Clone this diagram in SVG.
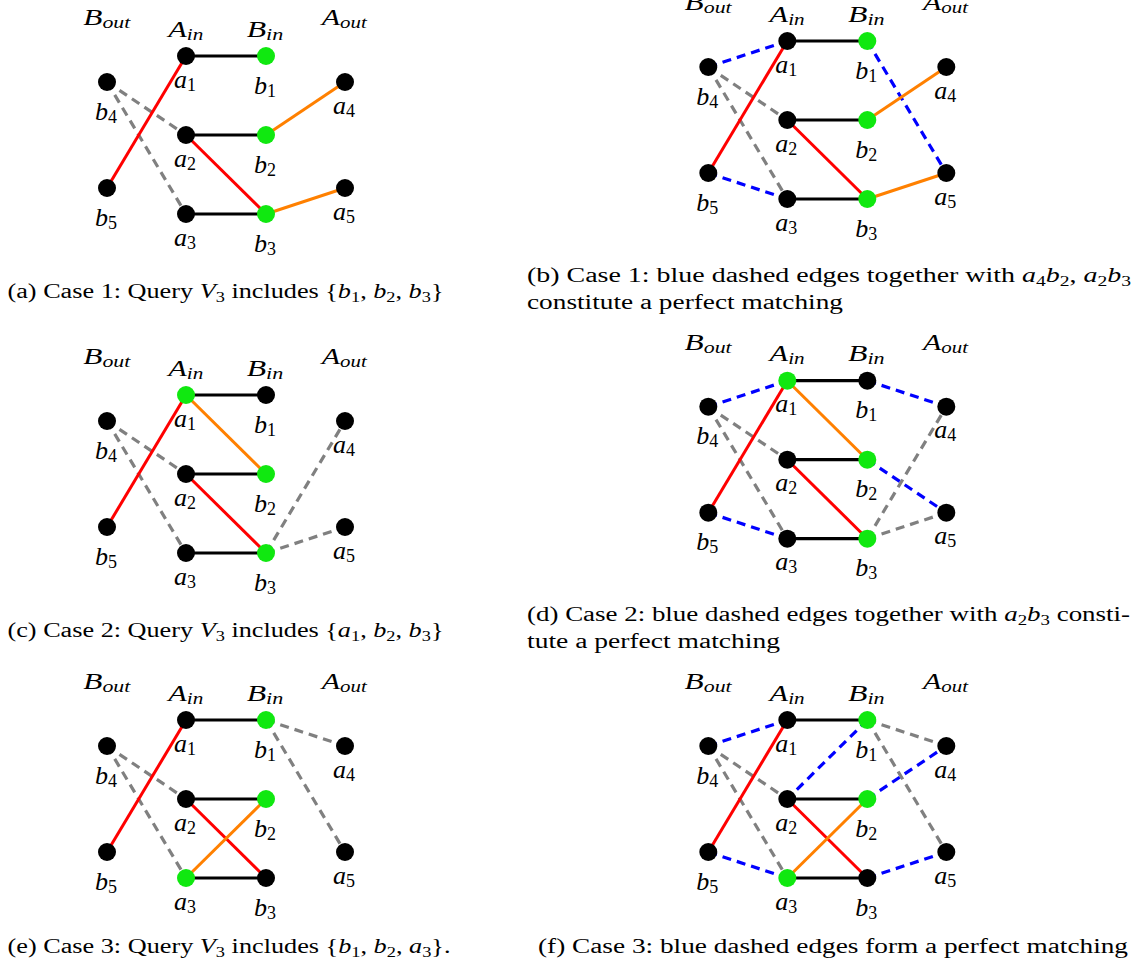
<svg xmlns="http://www.w3.org/2000/svg" width="1143" height="974" viewBox="0 0 1143 974">
<style>
.bg{fill:#ffffff}
.k{fill:#000000}
.g{fill:#10e810}
.bk{stroke:#000000;stroke-width:3.2;fill:none}
.rd{stroke:#ff0000;stroke-width:3;fill:none}
.or{stroke:#ff8000;stroke-width:3;fill:none}
.gd{stroke:#808080;stroke-width:3.2;stroke-dasharray:9 6;fill:none}
.bd{stroke:#0000ff;stroke-width:3.2;stroke-dasharray:9 6;fill:none}
.lbl{font-family:"Liberation Serif",serif;font-style:italic;font-size:26px;text-anchor:middle;fill:#000}
.ls{font-style:normal;font-size:18px}
.hd{font-family:"Liberation Serif",serif;font-style:italic;font-size:23px;fill:#000}
.hs{font-size:16px}
.cap{font-family:"Liberation Serif",serif;font-size:20px;fill:#000}
.i{font-style:italic}
.sub{font-size:14px}
</style>
<rect class="bg" x="0" y="0" width="1143" height="974"/>

<!-- Panel (a) -->
<g id="panel-a">
<g id="a-connectors">
<line class="gd" x1="107" y1="82" x2="186" y2="135"/>
<line class="gd" x1="107" y1="82" x2="186" y2="214"/>
<line class="rd" x1="107" y1="188" x2="186" y2="56"/>
<line class="rd" x1="186" y1="135" x2="266" y2="214"/>
<line class="or" x1="266" y1="135" x2="345" y2="82"/>
<line class="or" x1="266" y1="214" x2="345" y2="188"/>
<line class="bk" x1="186" y1="56" x2="266" y2="56"/>
<line class="bk" x1="186" y1="135" x2="266" y2="135"/>
<line class="bk" x1="186" y1="214" x2="266" y2="214"/>
</g>
<g id="a-headers">
<text class="hd" x="83.3" y="25" textLength="47" lengthAdjust="spacingAndGlyphs">B<tspan class="hs" dy="3">out</tspan></text>
<text class="hd" x="168.3" y="36.7" textLength="35" lengthAdjust="spacingAndGlyphs">A<tspan class="hs" dy="3">in</tspan></text>
<text class="hd" x="246.7" y="36.7" textLength="36.6" lengthAdjust="spacingAndGlyphs">B<tspan class="hs" dy="3">in</tspan></text>
<text class="hd" x="321.7" y="25" textLength="45" lengthAdjust="spacingAndGlyphs">A<tspan class="hs" dy="3">out</tspan></text>
</g>
<g id="a-a1"><circle class="k" cx="186" cy="56" r="9"/><text class="lbl" x="185" y="87.5">a<tspan class="ls" dy="3">1</tspan></text></g>
<g id="a-b1"><circle class="g" cx="266" cy="56" r="9"/><text class="lbl" x="265" y="93.5">b<tspan class="ls" dy="3">1</tspan></text></g>
<g id="a-b4"><circle class="k" cx="107" cy="82" r="9"/><text class="lbl" x="106" y="119.5">b<tspan class="ls" dy="3">4</tspan></text></g>
<g id="a-a4"><circle class="k" cx="345" cy="82" r="9"/><text class="lbl" x="344" y="113.5">a<tspan class="ls" dy="3">4</tspan></text></g>
<g id="a-a2"><circle class="k" cx="186" cy="135" r="9"/><text class="lbl" x="185" y="166.5">a<tspan class="ls" dy="3">2</tspan></text></g>
<g id="a-b2"><circle class="g" cx="266" cy="135" r="9"/><text class="lbl" x="265" y="172.5">b<tspan class="ls" dy="3">2</tspan></text></g>
<g id="a-b5"><circle class="k" cx="107" cy="188" r="9"/><text class="lbl" x="106" y="225.5">b<tspan class="ls" dy="3">5</tspan></text></g>
<g id="a-a5"><circle class="k" cx="345" cy="188" r="9"/><text class="lbl" x="344" y="219.5">a<tspan class="ls" dy="3">5</tspan></text></g>
<g id="a-a3"><circle class="k" cx="186" cy="214" r="9"/><text class="lbl" x="185" y="245.5">a<tspan class="ls" dy="3">3</tspan></text></g>
<g id="a-b3"><circle class="g" cx="266" cy="214" r="9"/><text class="lbl" x="265" y="251.5">b<tspan class="ls" dy="3">3</tspan></text></g>
</g>

<!-- Panel (b) -->
<g id="panel-b" transform="translate(601.3,-15)">
<g id="b-connectors">
<line class="gd" x1="107" y1="82" x2="186" y2="135"/>
<line class="gd" x1="107" y1="82" x2="186" y2="214"/>
<line class="bd" x1="107" y1="82" x2="186" y2="56"/>
<line class="bd" x1="107" y1="188" x2="186" y2="214"/>
<line class="bd" x1="266" y1="56" x2="345" y2="188"/>
<line class="rd" x1="107" y1="188" x2="186" y2="56"/>
<line class="rd" x1="186" y1="135" x2="266" y2="214"/>
<line class="or" x1="266" y1="135" x2="345" y2="82"/>
<line class="or" x1="266" y1="214" x2="345" y2="188"/>
<line class="bk" x1="186" y1="56" x2="266" y2="56"/>
<line class="bk" x1="186" y1="135" x2="266" y2="135"/>
<line class="bk" x1="186" y1="214" x2="266" y2="214"/>
</g>
<g id="b-headers">
<text class="hd" x="83.3" y="25" textLength="47" lengthAdjust="spacingAndGlyphs">B<tspan class="hs" dy="3">out</tspan></text>
<text class="hd" x="168.3" y="36.7" textLength="35" lengthAdjust="spacingAndGlyphs">A<tspan class="hs" dy="3">in</tspan></text>
<text class="hd" x="246.7" y="36.7" textLength="36.6" lengthAdjust="spacingAndGlyphs">B<tspan class="hs" dy="3">in</tspan></text>
<text class="hd" x="321.7" y="25" textLength="45" lengthAdjust="spacingAndGlyphs">A<tspan class="hs" dy="3">out</tspan></text>
</g>
<g id="b-a1"><circle class="k" cx="186" cy="56" r="9"/><text class="lbl" x="185" y="87.5">a<tspan class="ls" dy="3">1</tspan></text></g>
<g id="b-b1"><circle class="g" cx="266" cy="56" r="9"/><text class="lbl" x="265" y="93.5">b<tspan class="ls" dy="3">1</tspan></text></g>
<g id="b-b4"><circle class="k" cx="107" cy="82" r="9"/><text class="lbl" x="106" y="119.5">b<tspan class="ls" dy="3">4</tspan></text></g>
<g id="b-a4"><circle class="k" cx="345" cy="82" r="9"/><text class="lbl" x="344" y="113.5">a<tspan class="ls" dy="3">4</tspan></text></g>
<g id="b-a2"><circle class="k" cx="186" cy="135" r="9"/><text class="lbl" x="185" y="166.5">a<tspan class="ls" dy="3">2</tspan></text></g>
<g id="b-b2"><circle class="g" cx="266" cy="135" r="9"/><text class="lbl" x="265" y="172.5">b<tspan class="ls" dy="3">2</tspan></text></g>
<g id="b-b5"><circle class="k" cx="107" cy="188" r="9"/><text class="lbl" x="106" y="225.5">b<tspan class="ls" dy="3">5</tspan></text></g>
<g id="b-a5"><circle class="k" cx="345" cy="188" r="9"/><text class="lbl" x="344" y="219.5">a<tspan class="ls" dy="3">5</tspan></text></g>
<g id="b-a3"><circle class="k" cx="186" cy="214" r="9"/><text class="lbl" x="185" y="245.5">a<tspan class="ls" dy="3">3</tspan></text></g>
<g id="b-b3"><circle class="g" cx="266" cy="214" r="9"/><text class="lbl" x="265" y="251.5">b<tspan class="ls" dy="3">3</tspan></text></g>
</g>

<!-- Panel (c) -->
<g id="panel-c" transform="translate(0,339)">
<g id="c-connectors">
<line class="gd" x1="107" y1="82" x2="186" y2="135"/>
<line class="gd" x1="107" y1="82" x2="186" y2="214"/>
<line class="gd" x1="266" y1="214" x2="345" y2="82"/>
<line class="gd" x1="266" y1="214" x2="345" y2="188"/>
<line class="rd" x1="107" y1="188" x2="186" y2="56"/>
<line class="rd" x1="186" y1="135" x2="266" y2="214"/>
<line class="or" x1="186" y1="56" x2="266" y2="135"/>
<line class="bk" x1="186" y1="56" x2="266" y2="56"/>
<line class="bk" x1="186" y1="135" x2="266" y2="135"/>
<line class="bk" x1="186" y1="214" x2="266" y2="214"/>
</g>
<g id="c-headers">
<text class="hd" x="83.3" y="25" textLength="47" lengthAdjust="spacingAndGlyphs">B<tspan class="hs" dy="3">out</tspan></text>
<text class="hd" x="168.3" y="36.7" textLength="35" lengthAdjust="spacingAndGlyphs">A<tspan class="hs" dy="3">in</tspan></text>
<text class="hd" x="246.7" y="36.7" textLength="36.6" lengthAdjust="spacingAndGlyphs">B<tspan class="hs" dy="3">in</tspan></text>
<text class="hd" x="321.7" y="25" textLength="45" lengthAdjust="spacingAndGlyphs">A<tspan class="hs" dy="3">out</tspan></text>
</g>
<g id="c-a1"><circle class="g" cx="186" cy="56" r="9"/><text class="lbl" x="185" y="87.5">a<tspan class="ls" dy="3">1</tspan></text></g>
<g id="c-b1"><circle class="k" cx="266" cy="56" r="9"/><text class="lbl" x="265" y="93.5">b<tspan class="ls" dy="3">1</tspan></text></g>
<g id="c-b4"><circle class="k" cx="107" cy="82" r="9"/><text class="lbl" x="106" y="119.5">b<tspan class="ls" dy="3">4</tspan></text></g>
<g id="c-a4"><circle class="k" cx="345" cy="82" r="9"/><text class="lbl" x="344" y="113.5">a<tspan class="ls" dy="3">4</tspan></text></g>
<g id="c-a2"><circle class="k" cx="186" cy="135" r="9"/><text class="lbl" x="185" y="166.5">a<tspan class="ls" dy="3">2</tspan></text></g>
<g id="c-b2"><circle class="g" cx="266" cy="135" r="9"/><text class="lbl" x="265" y="172.5">b<tspan class="ls" dy="3">2</tspan></text></g>
<g id="c-b5"><circle class="k" cx="107" cy="188" r="9"/><text class="lbl" x="106" y="225.5">b<tspan class="ls" dy="3">5</tspan></text></g>
<g id="c-a5"><circle class="k" cx="345" cy="188" r="9"/><text class="lbl" x="344" y="219.5">a<tspan class="ls" dy="3">5</tspan></text></g>
<g id="c-a3"><circle class="k" cx="186" cy="214" r="9"/><text class="lbl" x="185" y="245.5">a<tspan class="ls" dy="3">3</tspan></text></g>
<g id="c-b3"><circle class="g" cx="266" cy="214" r="9"/><text class="lbl" x="265" y="251.5">b<tspan class="ls" dy="3">3</tspan></text></g>
</g>

<!-- Panel (d) -->
<g id="panel-d" transform="translate(601.3,324.7)">
<g id="d-connectors">
<line class="gd" x1="107" y1="82" x2="186" y2="135"/>
<line class="gd" x1="107" y1="82" x2="186" y2="214"/>
<line class="gd" x1="266" y1="214" x2="345" y2="82"/>
<line class="gd" x1="266" y1="214" x2="345" y2="188"/>
<line class="bd" x1="107" y1="82" x2="186" y2="56"/>
<line class="bd" x1="107" y1="188" x2="186" y2="214"/>
<line class="bd" x1="266" y1="56" x2="345" y2="82"/>
<line class="bd" x1="266" y1="135" x2="345" y2="188"/>
<line class="rd" x1="107" y1="188" x2="186" y2="56"/>
<line class="rd" x1="186" y1="135" x2="266" y2="214"/>
<line class="or" x1="186" y1="56" x2="266" y2="135"/>
<line class="bk" x1="186" y1="56" x2="266" y2="56"/>
<line class="bk" x1="186" y1="135" x2="266" y2="135"/>
<line class="bk" x1="186" y1="214" x2="266" y2="214"/>
</g>
<g id="d-headers">
<text class="hd" x="83.3" y="25" textLength="47" lengthAdjust="spacingAndGlyphs">B<tspan class="hs" dy="3">out</tspan></text>
<text class="hd" x="168.3" y="36.7" textLength="35" lengthAdjust="spacingAndGlyphs">A<tspan class="hs" dy="3">in</tspan></text>
<text class="hd" x="246.7" y="36.7" textLength="36.6" lengthAdjust="spacingAndGlyphs">B<tspan class="hs" dy="3">in</tspan></text>
<text class="hd" x="321.7" y="25" textLength="45" lengthAdjust="spacingAndGlyphs">A<tspan class="hs" dy="3">out</tspan></text>
</g>
<g id="d-a1"><circle class="g" cx="186" cy="56" r="9"/><text class="lbl" x="185" y="87.5">a<tspan class="ls" dy="3">1</tspan></text></g>
<g id="d-b1"><circle class="k" cx="266" cy="56" r="9"/><text class="lbl" x="265" y="93.5">b<tspan class="ls" dy="3">1</tspan></text></g>
<g id="d-b4"><circle class="k" cx="107" cy="82" r="9"/><text class="lbl" x="106" y="119.5">b<tspan class="ls" dy="3">4</tspan></text></g>
<g id="d-a4"><circle class="k" cx="345" cy="82" r="9"/><text class="lbl" x="344" y="113.5">a<tspan class="ls" dy="3">4</tspan></text></g>
<g id="d-a2"><circle class="k" cx="186" cy="135" r="9"/><text class="lbl" x="185" y="166.5">a<tspan class="ls" dy="3">2</tspan></text></g>
<g id="d-b2"><circle class="g" cx="266" cy="135" r="9"/><text class="lbl" x="265" y="172.5">b<tspan class="ls" dy="3">2</tspan></text></g>
<g id="d-b5"><circle class="k" cx="107" cy="188" r="9"/><text class="lbl" x="106" y="225.5">b<tspan class="ls" dy="3">5</tspan></text></g>
<g id="d-a5"><circle class="k" cx="345" cy="188" r="9"/><text class="lbl" x="344" y="219.5">a<tspan class="ls" dy="3">5</tspan></text></g>
<g id="d-a3"><circle class="k" cx="186" cy="214" r="9"/><text class="lbl" x="185" y="245.5">a<tspan class="ls" dy="3">3</tspan></text></g>
<g id="d-b3"><circle class="g" cx="266" cy="214" r="9"/><text class="lbl" x="265" y="251.5">b<tspan class="ls" dy="3">3</tspan></text></g>
</g>

<!-- Panel (e) -->
<g id="panel-e" transform="translate(0,664)">
<g id="e-connectors">
<line class="gd" x1="107" y1="82" x2="186" y2="135"/>
<line class="gd" x1="107" y1="82" x2="186" y2="214"/>
<line class="gd" x1="266" y1="56" x2="345" y2="82"/>
<line class="gd" x1="266" y1="56" x2="345" y2="188"/>
<line class="rd" x1="107" y1="188" x2="186" y2="56"/>
<line class="rd" x1="186" y1="135" x2="266" y2="214"/>
<line class="or" x1="186" y1="214" x2="266" y2="135"/>
<line class="bk" x1="186" y1="56" x2="266" y2="56"/>
<line class="bk" x1="186" y1="135" x2="266" y2="135"/>
<line class="bk" x1="186" y1="214" x2="266" y2="214"/>
</g>
<g id="e-headers">
<text class="hd" x="83.3" y="25" textLength="47" lengthAdjust="spacingAndGlyphs">B<tspan class="hs" dy="3">out</tspan></text>
<text class="hd" x="168.3" y="36.7" textLength="35" lengthAdjust="spacingAndGlyphs">A<tspan class="hs" dy="3">in</tspan></text>
<text class="hd" x="246.7" y="36.7" textLength="36.6" lengthAdjust="spacingAndGlyphs">B<tspan class="hs" dy="3">in</tspan></text>
<text class="hd" x="321.7" y="25" textLength="45" lengthAdjust="spacingAndGlyphs">A<tspan class="hs" dy="3">out</tspan></text>
</g>
<g id="e-a1"><circle class="k" cx="186" cy="56" r="9"/><text class="lbl" x="185" y="87.5">a<tspan class="ls" dy="3">1</tspan></text></g>
<g id="e-b1"><circle class="g" cx="266" cy="56" r="9"/><text class="lbl" x="265" y="93.5">b<tspan class="ls" dy="3">1</tspan></text></g>
<g id="e-b4"><circle class="k" cx="107" cy="82" r="9"/><text class="lbl" x="106" y="119.5">b<tspan class="ls" dy="3">4</tspan></text></g>
<g id="e-a4"><circle class="k" cx="345" cy="82" r="9"/><text class="lbl" x="344" y="113.5">a<tspan class="ls" dy="3">4</tspan></text></g>
<g id="e-a2"><circle class="k" cx="186" cy="135" r="9"/><text class="lbl" x="185" y="166.5">a<tspan class="ls" dy="3">2</tspan></text></g>
<g id="e-b2"><circle class="g" cx="266" cy="135" r="9"/><text class="lbl" x="265" y="172.5">b<tspan class="ls" dy="3">2</tspan></text></g>
<g id="e-b5"><circle class="k" cx="107" cy="188" r="9"/><text class="lbl" x="106" y="225.5">b<tspan class="ls" dy="3">5</tspan></text></g>
<g id="e-a5"><circle class="k" cx="345" cy="188" r="9"/><text class="lbl" x="344" y="219.5">a<tspan class="ls" dy="3">5</tspan></text></g>
<g id="e-a3"><circle class="g" cx="186" cy="214" r="9"/><text class="lbl" x="185" y="245.5">a<tspan class="ls" dy="3">3</tspan></text></g>
<g id="e-b3"><circle class="k" cx="266" cy="214" r="9"/><text class="lbl" x="265" y="251.5">b<tspan class="ls" dy="3">3</tspan></text></g>
</g>

<!-- Panel (f) -->
<g id="panel-f" transform="translate(601.3,664)">
<g id="f-connectors">
<line class="gd" x1="107" y1="82" x2="186" y2="135"/>
<line class="gd" x1="107" y1="82" x2="186" y2="214"/>
<line class="gd" x1="266" y1="56" x2="345" y2="82"/>
<line class="gd" x1="266" y1="56" x2="345" y2="188"/>
<line class="bd" x1="107" y1="82" x2="186" y2="56"/>
<line class="bd" x1="266" y1="56" x2="186" y2="135"/>
<line class="bd" x1="266" y1="135" x2="345" y2="82"/>
<line class="bd" x1="107" y1="188" x2="186" y2="214"/>
<line class="bd" x1="266" y1="214" x2="345" y2="188"/>
<line class="rd" x1="107" y1="188" x2="186" y2="56"/>
<line class="rd" x1="186" y1="135" x2="266" y2="214"/>
<line class="or" x1="186" y1="214" x2="266" y2="135"/>
<line class="bk" x1="186" y1="56" x2="266" y2="56"/>
<line class="bk" x1="186" y1="135" x2="266" y2="135"/>
<line class="bk" x1="186" y1="214" x2="266" y2="214"/>
</g>
<g id="f-headers">
<text class="hd" x="83.3" y="25" textLength="47" lengthAdjust="spacingAndGlyphs">B<tspan class="hs" dy="3">out</tspan></text>
<text class="hd" x="168.3" y="36.7" textLength="35" lengthAdjust="spacingAndGlyphs">A<tspan class="hs" dy="3">in</tspan></text>
<text class="hd" x="246.7" y="36.7" textLength="36.6" lengthAdjust="spacingAndGlyphs">B<tspan class="hs" dy="3">in</tspan></text>
<text class="hd" x="321.7" y="25" textLength="45" lengthAdjust="spacingAndGlyphs">A<tspan class="hs" dy="3">out</tspan></text>
</g>
<g id="f-a1"><circle class="k" cx="186" cy="56" r="9"/><text class="lbl" x="185" y="87.5">a<tspan class="ls" dy="3">1</tspan></text></g>
<g id="f-b1"><circle class="g" cx="266" cy="56" r="9"/><text class="lbl" x="265" y="93.5">b<tspan class="ls" dy="3">1</tspan></text></g>
<g id="f-b4"><circle class="k" cx="107" cy="82" r="9"/><text class="lbl" x="106" y="119.5">b<tspan class="ls" dy="3">4</tspan></text></g>
<g id="f-a4"><circle class="k" cx="345" cy="82" r="9"/><text class="lbl" x="344" y="113.5">a<tspan class="ls" dy="3">4</tspan></text></g>
<g id="f-a2"><circle class="k" cx="186" cy="135" r="9"/><text class="lbl" x="185" y="166.5">a<tspan class="ls" dy="3">2</tspan></text></g>
<g id="f-b2"><circle class="g" cx="266" cy="135" r="9"/><text class="lbl" x="265" y="172.5">b<tspan class="ls" dy="3">2</tspan></text></g>
<g id="f-b5"><circle class="k" cx="107" cy="188" r="9"/><text class="lbl" x="106" y="225.5">b<tspan class="ls" dy="3">5</tspan></text></g>
<g id="f-a5"><circle class="k" cx="345" cy="188" r="9"/><text class="lbl" x="344" y="219.5">a<tspan class="ls" dy="3">5</tspan></text></g>
<g id="f-a3"><circle class="g" cx="186" cy="214" r="9"/><text class="lbl" x="185" y="245.5">a<tspan class="ls" dy="3">3</tspan></text></g>
<g id="f-b3"><circle class="k" cx="266" cy="214" r="9"/><text class="lbl" x="265" y="251.5">b<tspan class="ls" dy="3">3</tspan></text></g>
</g>

<!-- Captions -->
<g id="captions">
<text class="cap" x="7.5" y="298" textLength="436" lengthAdjust="spacingAndGlyphs">(a) Case 1: Query <tspan class="i">V</tspan><tspan class="sub" dy="4">3</tspan><tspan dy="-4"> includes {</tspan><tspan class="i">b</tspan><tspan class="sub" dy="4">1</tspan><tspan dy="-4">, </tspan><tspan class="i">b</tspan><tspan class="sub" dy="4">2</tspan><tspan dy="-4">, </tspan><tspan class="i">b</tspan><tspan class="sub" dy="4">3</tspan><tspan dy="-4">}</tspan></text>
<text class="cap" x="527" y="282" textLength="604" lengthAdjust="spacingAndGlyphs">(b) Case 1: blue dashed edges together with <tspan class="i">a</tspan><tspan class="sub" dy="4">4</tspan><tspan class="i" dy="-4">b</tspan><tspan class="sub" dy="4">2</tspan><tspan dy="-4">, </tspan><tspan class="i">a</tspan><tspan class="sub" dy="4">2</tspan><tspan class="i" dy="-4">b</tspan><tspan class="sub" dy="4">3</tspan></text>
<text class="cap" x="527" y="309" textLength="316" lengthAdjust="spacingAndGlyphs">constitute a perfect matching</text>
<text class="cap" x="7.5" y="637" textLength="436" lengthAdjust="spacingAndGlyphs">(c) Case 2: Query <tspan class="i">V</tspan><tspan class="sub" dy="4">3</tspan><tspan dy="-4"> includes {</tspan><tspan class="i">a</tspan><tspan class="sub" dy="4">1</tspan><tspan dy="-4">, </tspan><tspan class="i">b</tspan><tspan class="sub" dy="4">2</tspan><tspan dy="-4">, </tspan><tspan class="i">b</tspan><tspan class="sub" dy="4">3</tspan><tspan dy="-4">}</tspan></text>
<text class="cap" x="527" y="621" textLength="603" lengthAdjust="spacingAndGlyphs">(d) Case 2: blue dashed edges together with <tspan class="i">a</tspan><tspan class="sub" dy="4">2</tspan><tspan class="i" dy="-4">b</tspan><tspan class="sub" dy="4">3</tspan><tspan dy="-4"> consti-</tspan></text>
<text class="cap" x="527" y="648" textLength="253" lengthAdjust="spacingAndGlyphs">tute a perfect matching</text>
<text class="cap" x="7.5" y="953" textLength="443" lengthAdjust="spacingAndGlyphs">(e) Case 3: Query <tspan class="i">V</tspan><tspan class="sub" dy="4">3</tspan><tspan dy="-4"> includes {</tspan><tspan class="i">b</tspan><tspan class="sub" dy="4">1</tspan><tspan dy="-4">, </tspan><tspan class="i">b</tspan><tspan class="sub" dy="4">2</tspan><tspan dy="-4">, </tspan><tspan class="i">a</tspan><tspan class="sub" dy="4">3</tspan><tspan dy="-4">}.</tspan></text>
<text class="cap" x="538" y="953" textLength="590" lengthAdjust="spacingAndGlyphs">(f) Case 3: blue dashed edges form a perfect matching</text>
</g>
</svg>
